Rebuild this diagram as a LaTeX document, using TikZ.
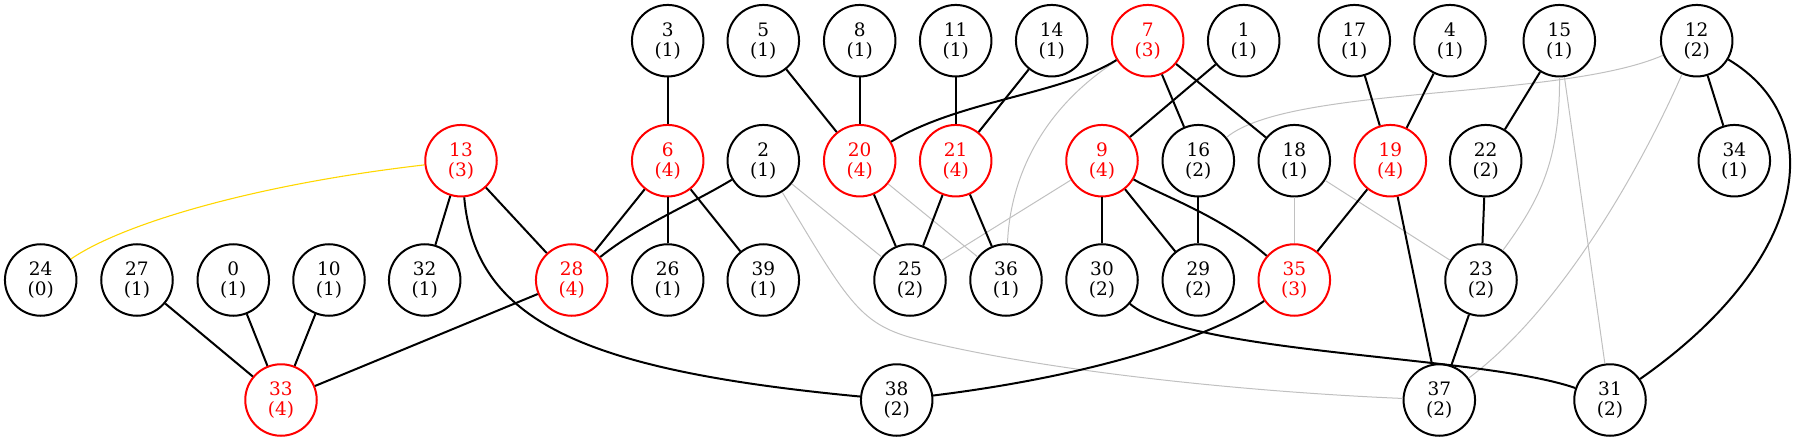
\documentclass[tikz,border=0pt]{standalone}
\usepackage{fontspec}
\setmainfont{DejaVu Serif}
\definecolor{edgegray}{HTML}{C0C0C0}
\definecolor{edgegold}{HTML}{FFD700}
\tikzset{
  vtx/.style={circle,draw=black,line width=2pt,minimum size=71.5pt,inner sep=0pt,align=center,
    font=\fontsize{18.5}{20}\selectfont},
  hot/.style={vtx,draw=red,text=red},
  strong/.style={draw=black,line width=2pt},
  weak/.style={draw=edgegray,line width=1pt},
  goldedge/.style={draw=edgegold,line width=1.1pt}
}
\begin{document}
\begin{tikzpicture}[x=1pt,y=-1pt]
\useasboundingbox (0,0) rectangle (1797,441);
% top row
\node[vtx] (n3)  at (667.7,40.7) {3\\(1)};
\node[vtx] (n5)  at (763.3,40.7) {5\\(1)};
\node[vtx] (n8)  at (859.7,40.7) {8\\(1)};
\node[vtx] (n11) at (955.7,40.7) {11\\(1)};
\node[vtx] (n14) at (1051.7,40.7) {14\\(1)};
\node[hot] (n7)  at (1147.7,40.7) {7\\(3)};
\node[vtx] (n1)  at (1243.7,40.7) {1\\(1)};
\node[vtx] (n17) at (1354.3,40.7) {17\\(1)};
\node[vtx] (n4)  at (1450,40.7) {4\\(1)};
\node[vtx] (n15) at (1559.3,40.7) {15\\(1)};
\node[vtx] (n12) at (1696.7,40.7) {12\\(2)};
% second row
\node[hot] (n13) at (461,160.7) {13\\(3)};
\node[hot] (n6)  at (667.7,160.7) {6\\(4)};
\node[vtx] (n2)  at (763.3,160.7) {2\\(1)};
\node[hot] (n20) at (859.7,160.7) {20\\(4)};
\node[hot] (n21) at (955.7,160.7) {21\\(4)};
\node[hot] (n9)  at (1102,160.7) {9\\(4)};
\node[vtx] (n16) at (1198.3,160.7) {16\\(2)};
\node[vtx] (n18) at (1294.3,160.7) {18\\(1)};
\node[hot] (n19) at (1390.3,160.7) {19\\(4)};
\node[vtx] (n22) at (1485.7,160.7) {22\\(2)};
\node[vtx] (n34) at (1734.3,160.7) {34\\(1)};
% third row
\node[vtx] (n24) at (40.7,280) {24\\(0)};
\node[vtx] (n27) at (137,280) {27\\(1)};
\node[vtx] (n0)  at (233.3,280) {0\\(1)};
\node[vtx] (n10) at (329,280) {10\\(1)};
\node[vtx] (n32) at (424.7,280) {32\\(1)};
\node[hot] (n28) at (571.7,280) {28\\(4)};
\node[vtx] (n26) at (667.7,280) {26\\(1)};
\node[vtx] (n39) at (763.3,280) {39\\(1)};
\node[vtx] (n25) at (910,280) {25\\(2)};
\node[vtx] (n36) at (1006,280) {36\\(1)};
\node[vtx] (n30) at (1102,280) {30\\(2)};
\node[vtx] (n29) at (1198.3,280) {29\\(2)};
\node[hot] (n35) at (1294.3,280) {35\\(3)};
\node[vtx] (n23) at (1481,280) {23\\(2)};
% bottom row
\node[hot] (n33) at (281,400) {33\\(4)};
\node[vtx] (n38) at (896.7,400) {38\\(2)};
\node[vtx] (n37) at (1439.3,400) {37\\(2)};
\node[vtx] (n31) at (1610,400) {31\\(2)};

% weak (gray) edges
\draw[weak] (n2) -- (n25);
\draw[weak] (n2) .. controls (850,305) and (860,325) .. (920,340) .. controls (1050,372) and (1250,392) .. (n37);
\draw[weak] (n20) -- (n36);
\draw[weak] (n7) .. controls (1040,110) and (1010,180) .. (n36);
\draw[weak] (n9) -- (n25);
\draw[weak] (n18) -- (n35);
\draw[weak] (n18) -- (n23);
\draw[weak] (n16) .. controls (1290,85) and (1560,100) .. (n12);
\draw[weak] (n15) .. controls (1560,160) and (1540,200) .. (n23);
\draw[weak] (n15) -- (n31);
\draw[weak] (n12) .. controls (1640,170) and (1560,310) .. (n37);
\draw[goldedge] (n13) .. controls (250,185) and (120,225) .. (n24);

% strong edges
\draw[strong] (n27) -- (n33);
\draw[strong] (n0) -- (n33);
\draw[strong] (n10) -- (n33);
\draw[strong] (n28) -- (n33);
\draw[strong] (n13) -- (n32);
\draw[strong] (n13) -- (n28);
\draw[strong] (n13) .. controls (475,320) and (580,370) .. (n38);
\draw[strong] (n3) -- (n6);
\draw[strong] (n6) -- (n28);
\draw[strong] (n6) -- (n26);
\draw[strong] (n6) -- (n39);
\draw[strong] (n2) .. controls (690,205) and (640,225) .. (n28);
\draw[strong] (n5) -- (n20);
\draw[strong] (n8) -- (n20);
\draw[strong] (n7) .. controls (1060,95) and (960,100) .. (n20);
\draw[strong] (n20) -- (n25);
\draw[strong] (n11) -- (n21);
\draw[strong] (n14) -- (n21);
\draw[strong] (n21) -- (n25);
\draw[strong] (n21) -- (n36);
\draw[strong] (n1) -- (n9);
\draw[strong] (n7) -- (n16);
\draw[strong] (n7) -- (n18);
\draw[strong] (n9) -- (n30);
\draw[strong] (n9) -- (n29);
\draw[strong] (n9) .. controls (1160,195) and (1220,215) .. (n35);
\draw[strong] (n16) -- (n29);
\draw[strong] (n19) -- (n35);
\draw[strong] (n35) .. controls (1215,335) and (1100,375) .. (n38);
\draw[strong] (n30) .. controls (1190,355) and (1480,355) .. (n31);
\draw[strong] (n17) -- (n19);
\draw[strong] (n4) -- (n19);
\draw[strong] (n19) -- (n37);
\draw[strong] (n15) -- (n22);
\draw[strong] (n22) -- (n23);
\draw[strong] (n23) -- (n37);
\draw[strong] (n12) -- (n34);
\draw[strong] (n12) .. controls (1830,120) and (1810,260) .. (n31);
\end{tikzpicture}
\end{document}
